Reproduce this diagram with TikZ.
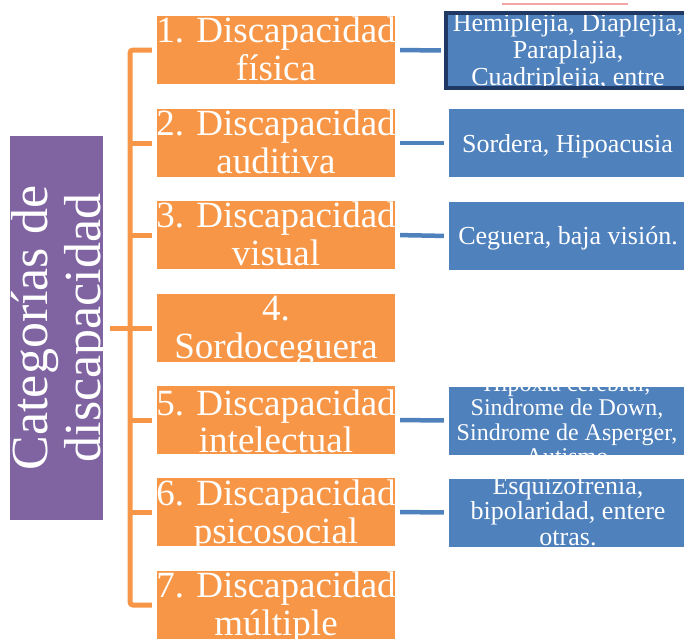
\documentclass[tikz,border=0pt]{standalone}
\usepackage{fontspec}
\setmainfont{Liberation Serif}
\definecolor{org}{HTML}{F79646}
\definecolor{blu}{HTML}{4F81BD}
\definecolor{pur}{HTML}{8064A2}
\definecolor{nav}{HTML}{1F3864}
\definecolor{spell}{HTML}{F4A6A6}
\begin{document}
\begin{tikzpicture}[x=1pt,y=-1pt,
  obox/.style={fill=org, minimum width=238pt, minimum height=68pt, inner sep=0pt},
  bbox/.style={fill=blu, minimum width=241pt, minimum height=68pt, inner sep=0pt},
  otxt/.style={text=white, anchor=base, inner sep=0pt, font=\fontsize{37}{38}\selectfont},
  btxt/.style={text=white, anchor=base, inner sep=0pt, font=\fontsize{26}{27}\selectfont},
  stxt/.style={text=white, anchor=base, inner sep=0pt, font=\fontsize{24}{25}\selectfont},
  ptxt/.style={text=white, anchor=base, inner sep=0pt, rotate=90, font=\fontsize{52}{54}\selectfont},
  oline/.style={draw=org, line width=5pt},
  bline/.style={draw=blu, line width=4.5pt, shorten <=5pt, shorten >=5pt}]
\useasboundingbox (0,0) rectangle (684,638);

% purple root
\node[fill=pur, minimum width=93pt, minimum height=384pt, inner sep=0pt] (p) at (56.5,328) {};
\begin{scope}
\clip (p.north west) rectangle (p.south east);
\node[ptxt] (p1) at (47,328) {Categorías de};
\node[ptxt] (p2) at (100,328) {discapacidad};
\end{scope}

% orange boxes
\node[obox] (o1) at (276,50) {};
\node[obox] (o2) at (276,143) {};
\node[obox] (o3) at (276,235) {};
\node[obox] (o4) at (276,328) {};
\node[obox] (o5) at (276,420) {};
\node[obox] (o6) at (276,512) {};
\node[obox] (o7) at (276,605) {};

\begin{scope}
\clip (o1.north west) rectangle (o1.south east);
\node[otxt] (o1a) at (276,42) {1. Discapacidad};
\node[otxt] (o1b) at (276,80) {física};
\end{scope}
\begin{scope}
\clip (o2.north west) rectangle (o2.south east);
\node[otxt] (o2a) at (276,135) {2. Discapacidad};
\node[otxt] (o2b) at (276,173) {auditiva};
\end{scope}
\begin{scope}
\clip (o3.north west) rectangle (o3.south east);
\node[otxt] (o3a) at (276,227) {3. Discapacidad};
\node[otxt] (o3b) at (276,265) {visual};
\end{scope}
\begin{scope}
\clip (o4.north west) rectangle (o4.south east);
\node[otxt] (o4a) at (276,320) {4.};
\node[otxt] (o4b) at (276,358) {Sordoceguera};
\end{scope}
\begin{scope}
\clip (o5.north west) rectangle (o5.south east);
\node[otxt] (o5a) at (276,415) {5. Discapacidad};
\node[otxt] (o5b) at (276,452) {intelectual};
\end{scope}
\begin{scope}
\clip (o6.north west) rectangle (o6.south east);
\node[otxt] (o6a) at (276,505) {6. Discapacidad};
\node[otxt] (o6b) at (276,543) {psicosocial};
\end{scope}
\begin{scope}
\clip (o7.north west) rectangle (o7.south east);
\node[otxt] (o7a) at (276,597) {7. Discapacidad};
\node[otxt] (o7b) at (276,635) {múltiple};
\end{scope}

% blue boxes
\node[bbox, minimum width=244pt, minimum height=75pt] (b1) at (568,50.5) {};
\node[bbox] (b2) at (569.5,143) {};
\node[bbox] (b3) at (569.5,236) {};
\node[bbox] (b5) at (569.5,420.5) {};
\node[bbox] (b6) at (569.5,512.5) {};

\begin{scope}
\clip (448,13) rectangle (690,86);
\node[btxt] (b1a) at (568,31) {Hemiplejia, Diaplejia,};
\node[btxt] (b1b) at (568,58) {Paraplajia,};
\node[btxt] (b1c) at (568,85) {Cuadriplejia, entre};
\end{scope}
\draw[nav, line width=3.5pt] (b1.north west) rectangle (b1.south east);
\node[btxt] (b2a) at (567.5,152) {Sordera, Hipoacusia};
\node[btxt] (b3a) at (568,244) {Ceguera, baja visión.};
\begin{scope}
\clip (b5.north west) rectangle (b5.south east);
\node[stxt] (b5a) at (567,391) {Hipoxia cerebral,};
\node[stxt] (b5b) at (567,415.5) {Sindrome de Down,};
\node[stxt] (b5c) at (567,440) {Sindrome de Asperger,};
\node[stxt] (b5d) at (567,464.5) {Autismo};
\end{scope}
\begin{scope}
\clip (b6.north west) rectangle (b6.south east);
\node[btxt] (b6a) at (568,494) {Esquizofrenia,};
\node[btxt] (b6b) at (568,519.5) {bipolaridad, entere};
\node[btxt] (b6c) at (568,545) {otras.};
\end{scope}

% spell-check mark at top
\draw[spell, line width=1.2pt] (502,4) -- (628,4);

% orange connectors
\coordinate (tr) at (130,328);
\draw[oline, rounded corners=3pt, shorten <=5pt, shorten >=5pt] (o1.west) -- (tr |- o1.west) |- (o7.west);
\draw[oline, shorten >=5pt] (tr |- o2.west) -- (o2.west);
\draw[oline, shorten >=5pt] (tr |- o3.west) -- (o3.west);
\draw[oline, shorten <=7pt, shorten >=5pt] (p.east) -- (o4.west);
\draw[oline, shorten >=5pt] (tr |- o5.west) -- (o5.west);
\draw[oline, shorten >=5pt] (tr |- o6.west) -- (o6.west);

% blue connectors
\draw[bline] (o1.east) -- (b1.west);
\draw[bline] (o2.east) -- (b2.west);
\draw[bline] (o3.east) -- (b3.west);
\draw[bline] (o5.east) -- (b5.west);
\draw[bline] (o6.east) -- (b6.west);
\end{tikzpicture}
\end{document}
